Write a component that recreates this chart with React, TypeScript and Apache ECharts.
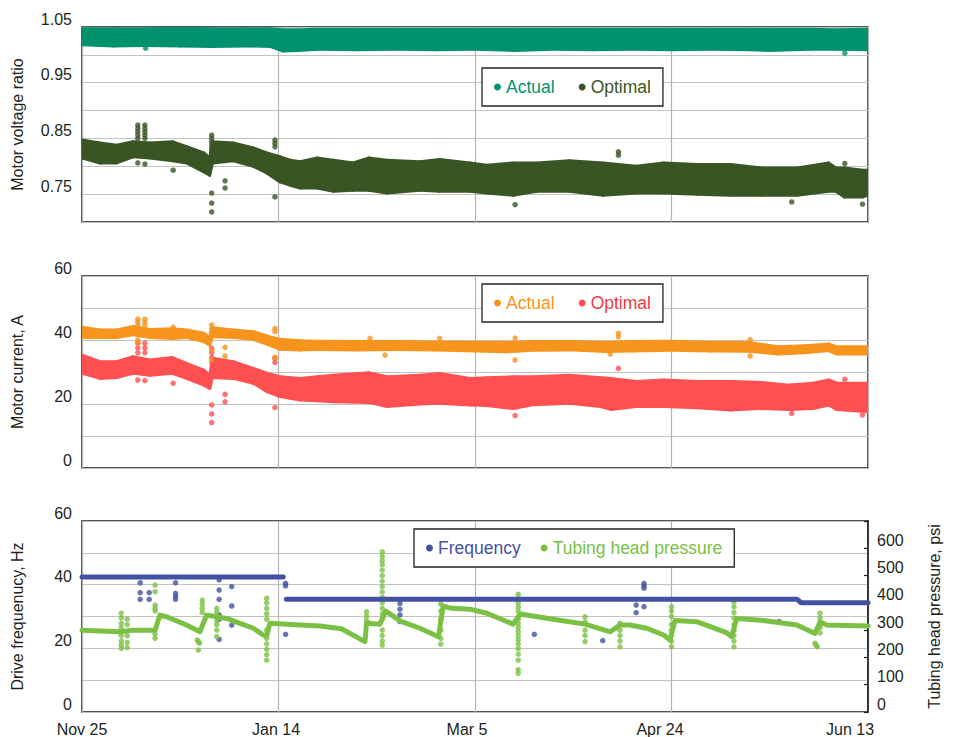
import React, { useEffect, useRef } from 'react';
import * as echarts from 'echarts';

const FONT = "'Liberation Sans', Arial, sans-serif";

// x axis: days since Nov 25
const xTickLabels = ['Nov 25', 'Jan 14', 'Mar 5', 'Apr 24', 'Jun 13'];

// ---- Panel 1: motor voltage ratio, bands [day, low, high]
const voltActualBand = [
  [0, 1.018, 1.047], [8, 1.016, 1.047], [16, 1.017, 1.047], [25, 1.016, 1.048], [33, 1.015, 1.047],
  [42, 1.016, 1.047], [48, 1.015, 1.047], [51, 1.007, 1.045], [55, 1.008, 1.045], [60, 1.010, 1.046],
  [70, 1.009, 1.046], [80, 1.010, 1.046], [90, 1.009, 1.046], [100, 1.010, 1.046], [110, 1.008, 1.046],
  [120, 1.010, 1.046], [130, 1.009, 1.046], [140, 1.010, 1.046], [150, 1.009, 1.046], [160, 1.010, 1.046],
  [170, 1.009, 1.046], [175, 1.008, 1.046], [185, 1.010, 1.046], [192, 1.010, 1.045], [200, 1.009, 1.046],
];
const voltActualOutliers = [[16.2, 1.012], [194.1, 1.003]];

const voltOptimalBand = [
  [0, 0.815, 0.847], [4.6, 0.806, 0.842], [8.8, 0.806, 0.838], [13, 0.817, 0.844], [17.3, 0.815, 0.842],
  [23, 0.810, 0.844], [26.6, 0.806, 0.835], [31, 0.790, 0.824], [32.5, 0.784, 0.815], [33.2, 0.806, 0.844],
  [38.5, 0.810, 0.842], [43.6, 0.800, 0.833], [47, 0.788, 0.824], [50.4, 0.772, 0.817], [53, 0.766, 0.811],
  [55.5, 0.761, 0.808], [59.8, 0.761, 0.815], [64, 0.755, 0.811], [69, 0.757, 0.806], [73, 0.757, 0.815],
  [77.6, 0.752, 0.811], [86, 0.757, 0.808], [91, 0.755, 0.812], [98.7, 0.755, 0.806], [103, 0.752, 0.802],
  [109.7, 0.748, 0.806], [115.8, 0.755, 0.806], [124, 0.755, 0.810], [132.6, 0.748, 0.806], [141, 0.752, 0.800],
  [148, 0.752, 0.806], [156.5, 0.750, 0.803], [165, 0.748, 0.803], [173, 0.748, 0.797], [182, 0.748, 0.797],
  [190, 0.755, 0.806], [191.8, 0.755, 0.797], [194, 0.745, 0.797], [198.7, 0.745, 0.793], [200, 0.748, 0.793],
];
const voltOptimalOutliers = [
  [14.2, 0.874], [14.2, 0.868], [14.2, 0.862], [14.2, 0.856], [14.2, 0.850], [14.2, 0.806],
  [16.0, 0.874], [16.0, 0.868], [16.0, 0.862], [16.0, 0.856], [16.0, 0.850], [16.0, 0.804],
  [23.2, 0.793],
  [33.0, 0.856], [33.0, 0.850], [33.0, 0.844], [33.0, 0.838], [33.0, 0.832], [33.0, 0.826], [33.0, 0.820],
  [33.0, 0.752], [33.0, 0.734], [33.0, 0.718],
  [36.4, 0.774], [36.4, 0.761],
  [49.1, 0.847], [49.1, 0.841], [49.1, 0.835], [49.1, 0.745],
  [110.2, 0.731], [136.5, 0.826], [136.5, 0.820],
  [180.6, 0.736], [194.1, 0.805], [198.6, 0.732],
];

// ---- Panel 2: motor current, A
const currActualBand = [
  [0, 40.8, 44], [4.6, 40.8, 43.1], [8.8, 40.8, 43.1], [13, 41.6, 44.2], [17.3, 40.8, 43.3],
  [23, 40.5, 43.5], [26.6, 40.8, 43.1], [31, 39.5, 42.1], [32.5, 38.4, 40.8], [33.2, 41, 43.8],
  [38.5, 40.8, 43.1], [43.6, 40.2, 42.6], [47, 38.75, 41.25], [50.4, 37.1, 40.2], [55.5, 36.9, 39.8],
  [60, 37, 39.6], [70, 36.9, 39.5], [80, 37, 39.5], [90, 36.9, 39.4], [100, 36.6, 39.3],
  [108, 36.3, 39.2], [115, 36.8, 39.5], [125, 36.9, 39.5], [133, 36.4, 39.2], [140, 36.6, 39.5],
  [150, 36.8, 39.6], [160, 36.6, 39.3], [170, 36.5, 39.2], [177, 35.6, 37.9], [184, 36, 38.2],
  [190, 36.7, 38.75], [192, 35.6, 37.9], [200, 35.6, 37.9],
];
const currActualOutliers = [
  [14.2, 46.5], [14.2, 45.5], [14.2, 44.5], [14.2, 40], [14.2, 39],
  [16.0, 46.5], [16.0, 45.5], [16.0, 44.5],
  [23.2, 44.0],
  [33.0, 44.7], [33.0, 43.5], [33.0, 42.3], [33.0, 36.9], [33.0, 33.75],
  [36.4, 37.7], [36.4, 35.0],
  [49.1, 43.6], [49.1, 42.6], [49.1, 34.6],
  [73.3, 40.5], [77.1, 35.3], [91, 40.5], [110.2, 40.6], [110.2, 33.75], [134.4, 35.6],
  [136.5, 42.1], [136.5, 41], [170, 40.1], [170, 35],
];

const currOptimalBand = [
  [0, 29.6, 35.3], [4.6, 28, 33.2], [8.8, 28.3, 33.2], [13, 29.6, 34.8], [17.3, 29, 33.75],
  [23, 29.6, 34.5], [26.6, 28, 32.7], [31, 25.9, 30.6], [32.5, 24.9, 29], [33.2, 28.3, 34.3],
  [38.5, 28, 33.2], [43.6, 26.5, 31.1], [47, 23.9, 29.6], [50.4, 22.3, 28.5], [55.5, 21.25, 28],
  [59.8, 21, 28.5], [64, 20.7, 29], [73, 20.5, 29.8], [77.6, 19.2, 28.5], [86, 20, 29],
  [91, 20.2, 29.5], [98.7, 19.7, 28], [103, 19.5, 28.2], [109.7, 18.6, 28.5], [115, 19.8, 28.5],
  [124, 20.2, 29], [132, 19.2, 28.2], [134.6, 18.3, 28], [141, 19.2, 27], [148, 19.2, 27.5],
  [156.5, 18.8, 27], [165, 18.1, 27], [172, 18.6, 26.8], [180, 18.3, 25.9], [186, 18.6, 26.5],
  [190, 19.7, 27.5], [192, 18.3, 26.5], [200, 17.6, 26.5],
];
const currOptimalOutliers = [
  [14.2, 39], [14.2, 37.5], [14.2, 36], [16.0, 39], [16.0, 37.5], [16.0, 36], [14.2, 27.5], [16.0, 27.3],
  [23.2, 26.5],
  [33.0, 37.4], [33.0, 36], [33.0, 34.5], [33.0, 33], [33.0, 19.7], [33.0, 16.9], [33.0, 14.2],
  [36.4, 23], [36.4, 20.7],
  [49.1, 34.3], [49.1, 33], [49.1, 18.9],
  [110.2, 16.4], [136.5, 31.1], [180.6, 17.1], [194.1, 27.7], [198.6, 16.6],
];

// ---- Panel 3: drive frequency (Hz) and tubing head pressure (psi)
const frequencyLine = [
  [0, 42.4], [51.2, 42.4], [51.6, '-'], [52, 35.4], [182, 35.4], [183, 34.3], [200, 34.3],
];
const frequencyOutliers = [
  [14.8, 40.6], [14.8, 37.5], [14.8, 35.4], [17.1, 37.5], [17.1, 35.4],
  [23.8, 40.6], [23.8, 37.3], [23.8, 36.3], [23.8, 35.4],
  [34.9, 41.5], [34.9, 38.3], [34.9, 35.4], [34.9, 30.5], [34.9, 29.1], [34.9, 22.8],
  [38.1, 39.4], [38.1, 33.3], [38.1, 27.3],
  [51.8, 40.4], [51.8, 39.6], [51.8, 24.4],
  [80.9, 34.1], [80.9, 32.3], [80.9, 30.5], [80.9, 28.4],
  [115.1, 24.4], [132.5, 22.4], [141, 33.6], [141, 31.2],
  [143, 40.4], [143, 39.6], [143, 38.9], [143, 33.1], [177.4, 28.4],
];

const tubingLine = [
  [0, 300], [9.7, 294], [13, 300], [18.6, 300], [19.8, 355], [21.5, 349], [26.6, 319], [30, 294],
  [31.7, 355], [34.3, 349], [36.8, 343], [40.2, 325], [43.6, 307], [46.1, 282], [47, 280], [47.8, 325],
  [55.5, 319], [60.6, 315], [66, 305], [72, 258], [72.4, 325], [75.8, 322], [77.3, 370], [81, 333],
  [86, 307], [90.7, 276], [91.9, 388], [94, 380], [98.7, 377], [103, 362], [109.7, 322], [111.5, 359],
  [119.9, 340], [128, 322], [134.4, 294], [136.9, 319], [139.4, 319], [143.7, 307], [148, 282],
  [149.6, 264], [150.9, 335], [156.4, 331], [164, 291], [165.3, 276], [166.6, 343], [173.4, 335],
  [181.9, 319], [186.5, 288], [187.8, 330], [189.5, 319], [200, 315],
];
const tubingSpikes = [
  [10, 362], [10, 345], [10, 325], [10, 310], [10, 280], [10, 260], [10, 245], [10, 233],
  [11.5, 340], [11.5, 320], [11.5, 280], [11.5, 255], [11.5, 236],
  [18.6, 465], [18.6, 441], [18.6, 392], [18.6, 380], [18.6, 370], [18.6, 285], [18.6, 270],
  [29.3, 264], [29.6, 258], [29.9, 252], [29.6, 227],
  [30.6, 410], [30.6, 395], [30.6, 380], [30.6, 365],
  [34.3, 380], [34.3, 365], [34.3, 335], [34.3, 320], [34.3, 300], [34.3, 276],
  [47, 417], [47, 400], [47, 380], [47, 360], [47, 340], [47, 300], [47, 270], [47, 250], [47, 230], [47, 210], [47, 190],
  [72.4, 367], [72.4, 350], [72.4, 335],
  [76.4, 587], [76.4, 570], [76.4, 555], [76.4, 540], [76.4, 520], [76.4, 500], [76.4, 480], [76.4, 460],
  [76.4, 440], [76.4, 420], [76.4, 400], [76.4, 380], [76.4, 360], [76.4, 340], [76.4, 300], [76.4, 280],
  [76.4, 260], [76.4, 245],
  [91.3, 396], [91.3, 370], [91.3, 340], [91.3, 300], [91.3, 270], [91.3, 249],
  [111, 431], [111, 415], [111, 400], [111, 385], [111, 370], [111, 340], [111, 325], [111, 310], [111, 295],
  [111, 280], [111, 265], [111, 250], [111, 232], [111, 212], [111, 190], [111, 155], [111, 142],
  [128, 349], [128, 330], [128, 300], [128, 280], [128, 258],
  [136.9, 325], [136.9, 300], [136.9, 280], [136.9, 260], [136.9, 239],
  [150, 386], [150, 370], [150, 350], [150, 320], [150, 300], [150, 280], [150, 260], [150, 239],
  [165.9, 404], [165.9, 385], [165.9, 365], [165.9, 345], [165.9, 320], [165.9, 300], [165.9, 280], [165.9, 260], [165.9, 239],
  [186.5, 252], [186.8, 245], [187.1, 239],
  [187.8, 362], [187.8, 345], [187.8, 330], [187.8, 310], [187.8, 290],
];

const C = {
  teal: '#00926f',
  darkGreen: '#3a5524',
  orange: '#f7941d',
  red: '#fe4f51',
  redText: '#ee3a40',
  blue: '#4351a3',
  green: '#7ac143',
  text: '#231f20',
  grid: '#c2c2c2',
  vgrid: '#b4b4b4',
  frame: '#1c1c1c',
};

function bandSeries(name: string, data: number[][], color: string, axis: number) {
  return {
    type: 'custom',
    name,
    xAxisIndex: axis,
    yAxisIndex: axis,
    clip: true,
    itemStyle: { color },
    data,
    encode: { x: 0, y: [1, 2] },
    silent: true,
    renderItem: (params: any, api: any) => {
      const i = params.dataIndex;
      if (i >= data.length - 1) return { type: 'group', children: [] };
      const a = data[i];
      const b = data[i + 1];
      const pts = [
        api.coord([a[0], a[2]]),
        api.coord([b[0], b[2]]),
        api.coord([b[0], b[1]]),
        api.coord([a[0], a[1]]),
      ];
      return {
        type: 'polygon',
        shape: { points: pts },
        style: { fill: color, stroke: color, lineWidth: 3, lineJoin: 'round' },
      };
    },
  };
}

function dotSeries(name: string, data: any[], color: string, xi: number, yi: number, size = 5.5) {
  return {
    type: 'scatter',
    name,
    xAxisIndex: xi,
    yAxisIndex: yi,
    data,
    symbol: 'circle',
    symbolSize: size,
    itemStyle: { color },
    silent: true,
    clip: true,
  };
}

const tickLabel = { fontSize: 16, color: C.text, fontFamily: FONT };
const axisName = { fontSize: 16, color: C.text, fontFamily: FONT };

function xAxis(gridIndex: number, showLabels: boolean) {
  return {
    type: 'value',
    gridIndex,
    min: 0,
    max: 200,
    interval: 50,
    axisLine: { show: false },
    axisTick: { show: false },
    splitLine: { show: true, lineStyle: { color: C.vgrid, width: 1.2 } },
    axisLabel: showLabels
      ? {
          show: true,
          margin: 9,
          ...tickLabel,
          formatter: (v: number) => {
            const idx = Math.round(v / 50);
            return `{l${idx}|${xTickLabels[idx]}}`;
          },
          rich: {
            l0: { ...tickLabel, padding: [0, 0, 0, 0] },
            l1: { ...tickLabel, padding: [0, 5, 0, 0] },
            l2: { ...tickLabel, padding: [0, 16, 0, 0] },
            l3: { ...tickLabel, padding: [0, 23, 0, 0] },
            l4: { ...tickLabel, padding: [0, 36, 0, 0] },
          },
        }
      : { show: false },
  };
}

function legend(names: string[], colors: string[], left: number, top: number, gap: number, strip: boolean) {
  return {
    data: names.map((n, i) => ({ name: n, textStyle: { color: colors[i] } })),
    left,
    top,
    orient: 'horizontal',
    icon: 'circle',
    itemWidth: 7,
    itemHeight: 7,
    itemGap: gap,
    padding: [7, 12, 7, 12],
    borderColor: '#222',
    borderWidth: 1.3,
    backgroundColor: '#fff',
    selectedMode: false,
    textStyle: { fontSize: 17.5, fontFamily: FONT, lineHeight: 24 },
    formatter: (name: string) => (strip ? name.replace(/ (voltage|current)$/, '') : name),
  };
}

const gridBase = { left: 82, right: 85, show: true, borderColor: C.frame, borderWidth: 1.5, backgroundColor: '#fff' };

const option = {
  animation: false,
  backgroundColor: '#fff',
  textStyle: { fontFamily: FONT },
  grid: [
    { ...gridBase, top: 27, height: 195 },
    { ...gridBase, top: 276, height: 192 },
    { ...gridBase, top: 521, height: 191 },
  ],
  legend: [
    legend(['Actual voltage', 'Optimal voltage'], [C.teal, C.darkGreen], 482, 68, 24, true),
    legend(['Actual current', 'Optimal current'], [C.orange, C.redText], 482, 284, 24, true),
    legend(['Frequency', 'Tubing head pressure'], [C.blue, C.green], 414, 529, 20, false),
  ],
  xAxis: [xAxis(0, false), xAxis(1, false), xAxis(2, true)],
  yAxis: [
    {
      type: 'value', gridIndex: 0, min: 0.7, max: 1.05, interval: 0.05,
      name: 'Motor voltage ratio', nameLocation: 'middle', nameGap: 57, nameTextStyle: axisName,
      axisLine: { show: false }, axisTick: { show: false },
      splitLine: { lineStyle: { color: C.grid, width: 1.2 } },
      axisLabel: {
        ...tickLabel, margin: 10, verticalAlign: 'bottom',
        formatter: (v: number) => (Math.round(v * 100) % 10 === 5 ? v.toFixed(2) : ''),
      },
    },
    {
      type: 'value', gridIndex: 1, min: 0, max: 60, interval: 10,
      name: 'Motor current, A', nameLocation: 'middle', nameGap: 57, nameTextStyle: axisName,
      axisLine: { show: false }, axisTick: { show: false },
      splitLine: { lineStyle: { color: C.grid, width: 1.2 } },
      axisLabel: { ...tickLabel, margin: 10, verticalAlign: 'bottom', formatter: (v: number) => (v % 20 === 0 ? String(v) : '') },
    },
    {
      type: 'value', gridIndex: 2, min: 0, max: 60, interval: 10,
      name: 'Drive frequenucy, Hz', nameLocation: 'middle', nameGap: 57, nameTextStyle: axisName,
      axisLine: { show: false }, axisTick: { show: false },
      splitLine: { lineStyle: { color: C.grid, width: 1.2 } },
      axisLabel: { ...tickLabel, margin: 10, verticalAlign: 'bottom', formatter: (v: number) => (v % 20 === 0 ? String(v) : '') },
    },
    {
      type: 'value', gridIndex: 2, position: 'right', min: 0, max: 700, interval: 100,
      name: 'Tubing head pressure, psi', nameLocation: 'middle', nameGap: 58, nameTextStyle: axisName,
      axisLine: { show: true, lineStyle: { color: C.frame, width: 1.5 } },
      axisTick: { show: true, inside: true, length: 4, lineStyle: { color: C.frame, width: 1.2 } },
      splitLine: { show: false },
      axisLabel: { ...tickLabel, margin: 9, verticalAlign: 'bottom', formatter: (v: number) => (v <= 600 ? String(v) : '') },
    },
  ],
  series: [
    bandSeries('Actual voltage', voltActualBand, C.teal, 0),
    dotSeries('Actual voltage', voltActualOutliers, C.teal, 0, 0),
    bandSeries('Optimal voltage', voltOptimalBand, C.darkGreen, 0),
    dotSeries('Optimal voltage', voltOptimalOutliers, C.darkGreen, 0, 0),

    bandSeries('Optimal current', currOptimalBand, C.red, 1),
    dotSeries('Optimal current', currOptimalOutliers, C.red, 1, 1),
    bandSeries('Actual current', currActualBand, C.orange, 1),
    dotSeries('Actual current', currActualOutliers, C.orange, 1, 1),

    {
      type: 'line', name: 'Tubing head pressure', xAxisIndex: 2, yAxisIndex: 3, data: tubingLine,
      showSymbol: false, symbol: 'none', silent: true,
      lineStyle: { color: C.green, width: 5, cap: 'round', join: 'round' }, itemStyle: { color: C.green },
    },
    {
      type: 'line', name: 'Frequency', xAxisIndex: 2, yAxisIndex: 2, data: frequencyLine,
      showSymbol: false, symbol: 'none', silent: true, connectNulls: false,
      lineStyle: { color: C.blue, width: 5, cap: 'round' }, itemStyle: { color: C.blue },
    },
    dotSeries('Frequency', frequencyOutliers, C.blue, 2, 2),
    dotSeries('Tubing head pressure', tubingSpikes, C.green, 2, 3),
  ],
};

export default function App() {
  const ref = useRef<HTMLDivElement>(null);
  useEffect(() => {
    if (!ref.current) return;
    const chart = echarts.init(ref.current, null, { renderer: 'svg' });
    chart.setOption(option as any);
    return () => chart.dispose();
  }, []);
  return (
    <div
      ref={ref}
      style={{ position: 'fixed', left: 0, top: 0, width: 953, height: 737, background: '#fff' }}
    />
  );
}
